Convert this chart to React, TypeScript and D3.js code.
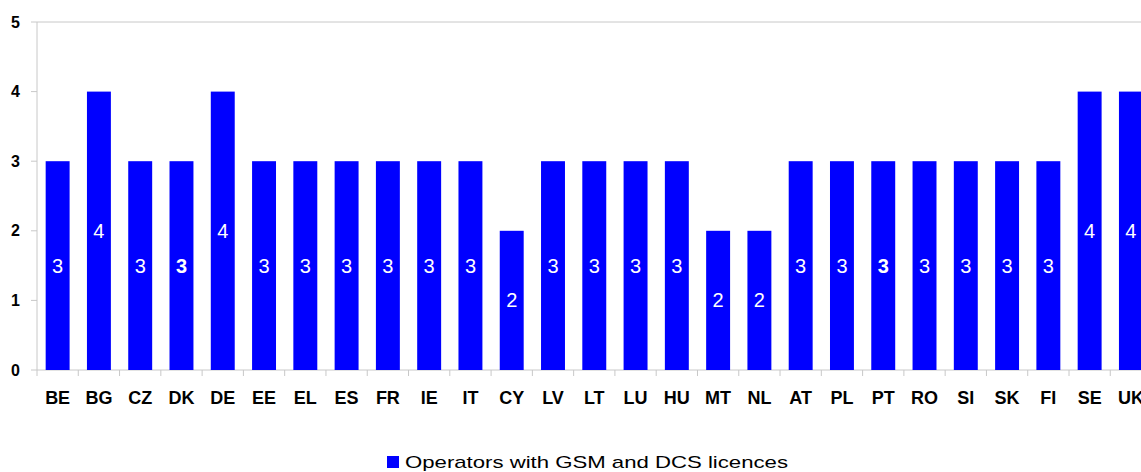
import { useRef, useEffect } from 'react';
import * as d3 from 'd3';

const countries = ['BE', 'BG', 'CZ', 'DK', 'DE', 'EE', 'EL', 'ES', 'FR', 'IE', 'IT', 'CY', 'LV', 'LT', 'LU', 'HU', 'MT', 'NL', 'AT', 'PL', 'PT', 'RO', 'SI', 'SK', 'FI', 'SE', 'UK'];
const operators = [3, 4, 3, 3, 4, 3, 3, 3, 3, 3, 3, 2, 3, 3, 3, 3, 2, 2, 3, 3, 3, 3, 3, 3, 3, 4, 4];
const boldLabels = ['DK', 'PT'];
const yTicks = [0, 1, 2, 3, 4, 5];
const seriesName = 'Operators with GSM and DCS licences';

const W = 1141;
const H = 472;
const FONT = 'Arial, "Liberation Sans", sans-serif';

function drawChart(svgEl: SVGSVGElement) {
  const svg = d3.select(svgEl);
  svg.selectAll('*').remove();

  const left = 37;
  const top = 22;
  const bottom = 370;
  const step = 41.28;

  const x = d3.scaleBand()
    .domain(countries)
    .range([left, left + step * countries.length])
    .paddingInner(0.42)
    .paddingOuter(0.21);

  const y = d3.scaleLinear().domain([0, 5]).range([bottom, top]);

  // top border of plot area
  svg.append('line')
    .attr('x1', left).attr('x2', W)
    .attr('y1', y(5)).attr('y2', y(5))
    .attr('stroke', '#c8c8c8');

  // y axis
  svg.append('line')
    .attr('x1', left).attr('x2', left)
    .attr('y1', top).attr('y2', bottom)
    .attr('stroke', '#c8c8c8');

  yTicks.forEach((t) => {
    svg.append('line')
      .attr('x1', left - 6).attr('x2', left)
      .attr('y1', y(t)).attr('y2', y(t))
      .attr('stroke', '#c8c8c8');
    svg.append('text')
      .attr('x', 20)
      .attr('y', y(t))
      .attr('dy', '0.35em')
      .attr('text-anchor', 'end')
      .style('font-family', FONT)
      .style('font-size', '16px')
      .style('font-weight', 'bold')
      .text(String(t));
  });

  // x axis
  svg.append('line')
    .attr('x1', left).attr('x2', W)
    .attr('y1', bottom).attr('y2', bottom)
    .attr('stroke', '#c8c8c8');

  countries.forEach((c, i) => {
    const bx = left + step * i;
    svg.append('line')
      .attr('x1', bx).attr('x2', bx)
      .attr('y1', bottom).attr('y2', bottom + 6)
      .attr('stroke', '#c8c8c8');
    svg.append('text')
      .attr('x', x(c)! + x.bandwidth() / 2)
      .attr('y', 398)
      .attr('dy', '0.35em')
      .attr('text-anchor', 'middle')
      .style('font-family', FONT)
      .style('font-size', '18px')
      .style('font-weight', 'bold')
      .text(c);
  });

  const data = countries.map((c, i) => ({ c, v: operators[i] }));

  svg.selectAll('.bar')
    .data(data)
    .enter()
    .append('rect')
    .attr('class', 'bar')
    .attr('x', (d) => x(d.c)!)
    .attr('y', (d) => y(d.v))
    .attr('width', x.bandwidth())
    .attr('height', (d) => bottom - y(d.v))
    .attr('fill', '#0000ff');

  svg.selectAll('.val')
    .data(data)
    .enter()
    .append('text')
    .attr('class', 'val')
    .attr('x', (d) => x(d.c)! + x.bandwidth() / 2)
    .attr('y', (d) => (y(d.v) + bottom) / 2)
    .attr('dy', '0.35em')
    .attr('text-anchor', 'middle')
    .style('font-family', FONT)
    .style('font-size', '20px')
    .style('font-weight', (d) => (boldLabels.includes(d.c) ? 'bold' : 'normal'))
    .attr('fill', '#ffffff')
    .text((d) => String(d.v));

  // legend
  svg.append('rect')
    .attr('x', 387).attr('y', 456)
    .attr('width', 12).attr('height', 12)
    .attr('fill', '#0000ff');
  svg.append('text')
    .attr('x', 405)
    .attr('y', 468)
    .attr('textLength', 383)
    .attr('lengthAdjust', 'spacingAndGlyphs')
    .style('font-family', FONT)
    .style('font-size', '17px')
    .text(seriesName);
}

export default function App() {
  const ref = useRef<SVGSVGElement>(null);

  useEffect(() => {
    if (!ref.current) return;
    drawChart(ref.current);
  }, []);

  return (
    <svg
      ref={ref}
      width={W}
      height={H}
      style={{ position: 'absolute', left: 0, top: 0, background: '#fff' }}
    />
  );
}
